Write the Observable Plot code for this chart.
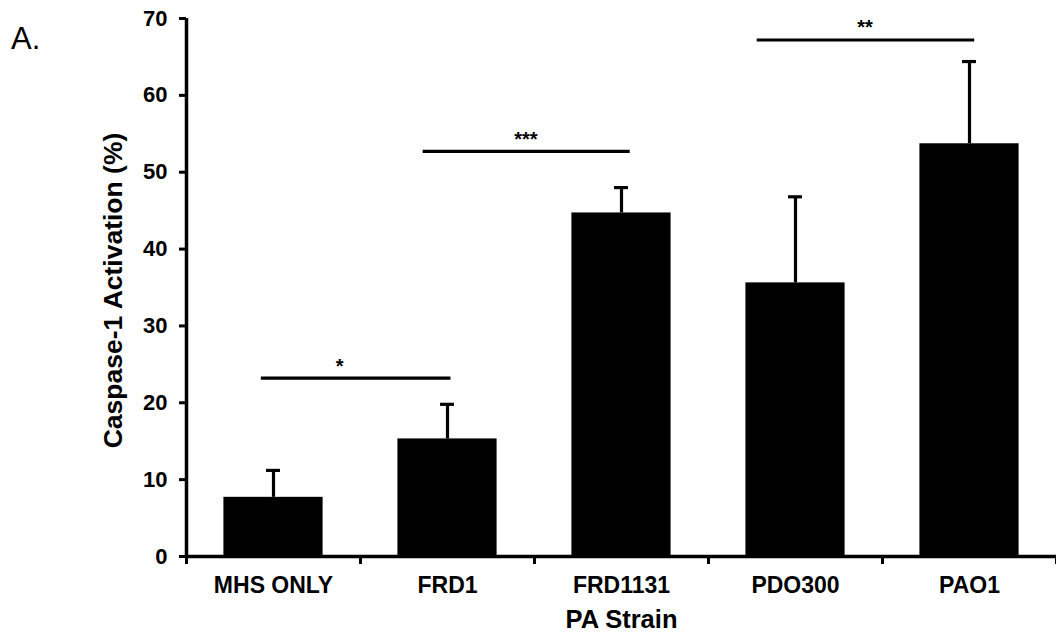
<!DOCTYPE html>
<html><head><meta charset="utf-8">
<script src="https://cdn.jsdelivr.net/npm/d3@7"></script>
<script src="https://cdn.jsdelivr.net/npm/@observablehq/plot@0.6"></script>
<style>
body{margin:0;background:#fff;}
#wrap{position:relative;width:1056px;height:641px;}
#panel{position:absolute;left:11px;top:23px;font:31px/1 "Liberation Sans", Arial, sans-serif;color:#000;}
#chart{position:absolute;left:0;top:0;}
</style></head><body>
<div id="wrap"><div id="chart"></div><div id="panel">A.</div></div>
<script>
const strains = ["MHS ONLY", "FRD1", "FRD1131", "PDO300", "PAO1"];
const means = [7.7, 15.3, 44.7, 35.6, 53.7];
const errors = [3.5, 4.5, 3.3, 11.2, 10.7];
const yTicks = [0, 10, 20, 30, 40, 50, 60, 70];
const sigLabels = ["*", "***", "**"];
const sigFrom = [-0.07, 0.86, 2.78];
const sigTo = [1.02, 2.05, 4.03];
const sigY = [23.2, 52.7, 67.2];
const sigLabelX = [0.38, 1.45, 3.40];

const data = strains.map((s, i) => ({i, strain: s, mean: means[i], err: errors[i]}));
const brackets = sigLabels.map((l, k) => ({label: l, x1: sigFrom[k], x2: sigTo[k], y: sigY[k], lx: sigLabelX[k]}));
const BAR_HALF = 0.285, CAP_HALF = 0.04;
const boundaries = d3.range(-0.5, strains.length, 1);

const chart = Plot.plot({
  width: 1056, height: 641,
  marginLeft: 186, marginRight: 0, marginTop: 18, marginBottom: 85,
  x: {type: "linear", domain: [-0.5, strains.length - 0.5]},
  y: {domain: [0, 70]},
  style: {fontFamily: '"Liberation Sans", Arial, sans-serif', fontWeight: "bold", color: "#000", background: "#fff"},
  marks: [
    Plot.rectY(data, {x1: d => d.i - BAR_HALF, x2: d => d.i + BAR_HALF, y1: 0, y2: "mean", fill: "#000"}),
    Plot.ruleX(data, {x: "i", y1: "mean", y2: d => d.mean + d.err, strokeWidth: 3.2}),
    Plot.ruleY(data, {y: d => d.mean + d.err, x1: d => d.i - CAP_HALF, x2: d => d.i + CAP_HALF, strokeWidth: 3.2}),
    Plot.ruleY(brackets, {y: "y", x1: "x1", x2: "x2", strokeWidth: 3.2}),
    Plot.text(brackets, {x: "lx", y: "y", text: "label", fontSize: 20, fontWeight: "bold", dy: -12}),
    Plot.axisY({ticks: yTicks, tickSize: 7, tickPadding: 12, fontSize: 22, strokeWidth: 3, label: null}),
    Plot.axisX({ticks: boundaries, tickFormat: () => "", tickSize: 8, strokeWidth: 3, label: null}),
    Plot.axisX({ticks: d3.range(strains.length), tickFormat: i => strains[i], tickSize: 0, tickPadding: 20, fontSize: 23, label: null}),
    Plot.ruleX([-0.5], {strokeWidth: 3.5}),
    Plot.ruleY([0], {strokeWidth: 3.5}),
    Plot.text(["Caspase-1 Activation (%)"], {frameAnchor: "left", textAnchor: "middle", lineAnchor: "middle", dx: -73, dy: 3, rotate: -90, fontSize: 26.5, fontWeight: "bold"}),
    Plot.text(["PA Strain"], {frameAnchor: "bottom", textAnchor: "middle", lineAnchor: "middle", dy: 63, fontSize: 25.5, fontWeight: "bold"})
  ]
});
document.getElementById("chart").appendChild(chart);
</script>
</body></html>
